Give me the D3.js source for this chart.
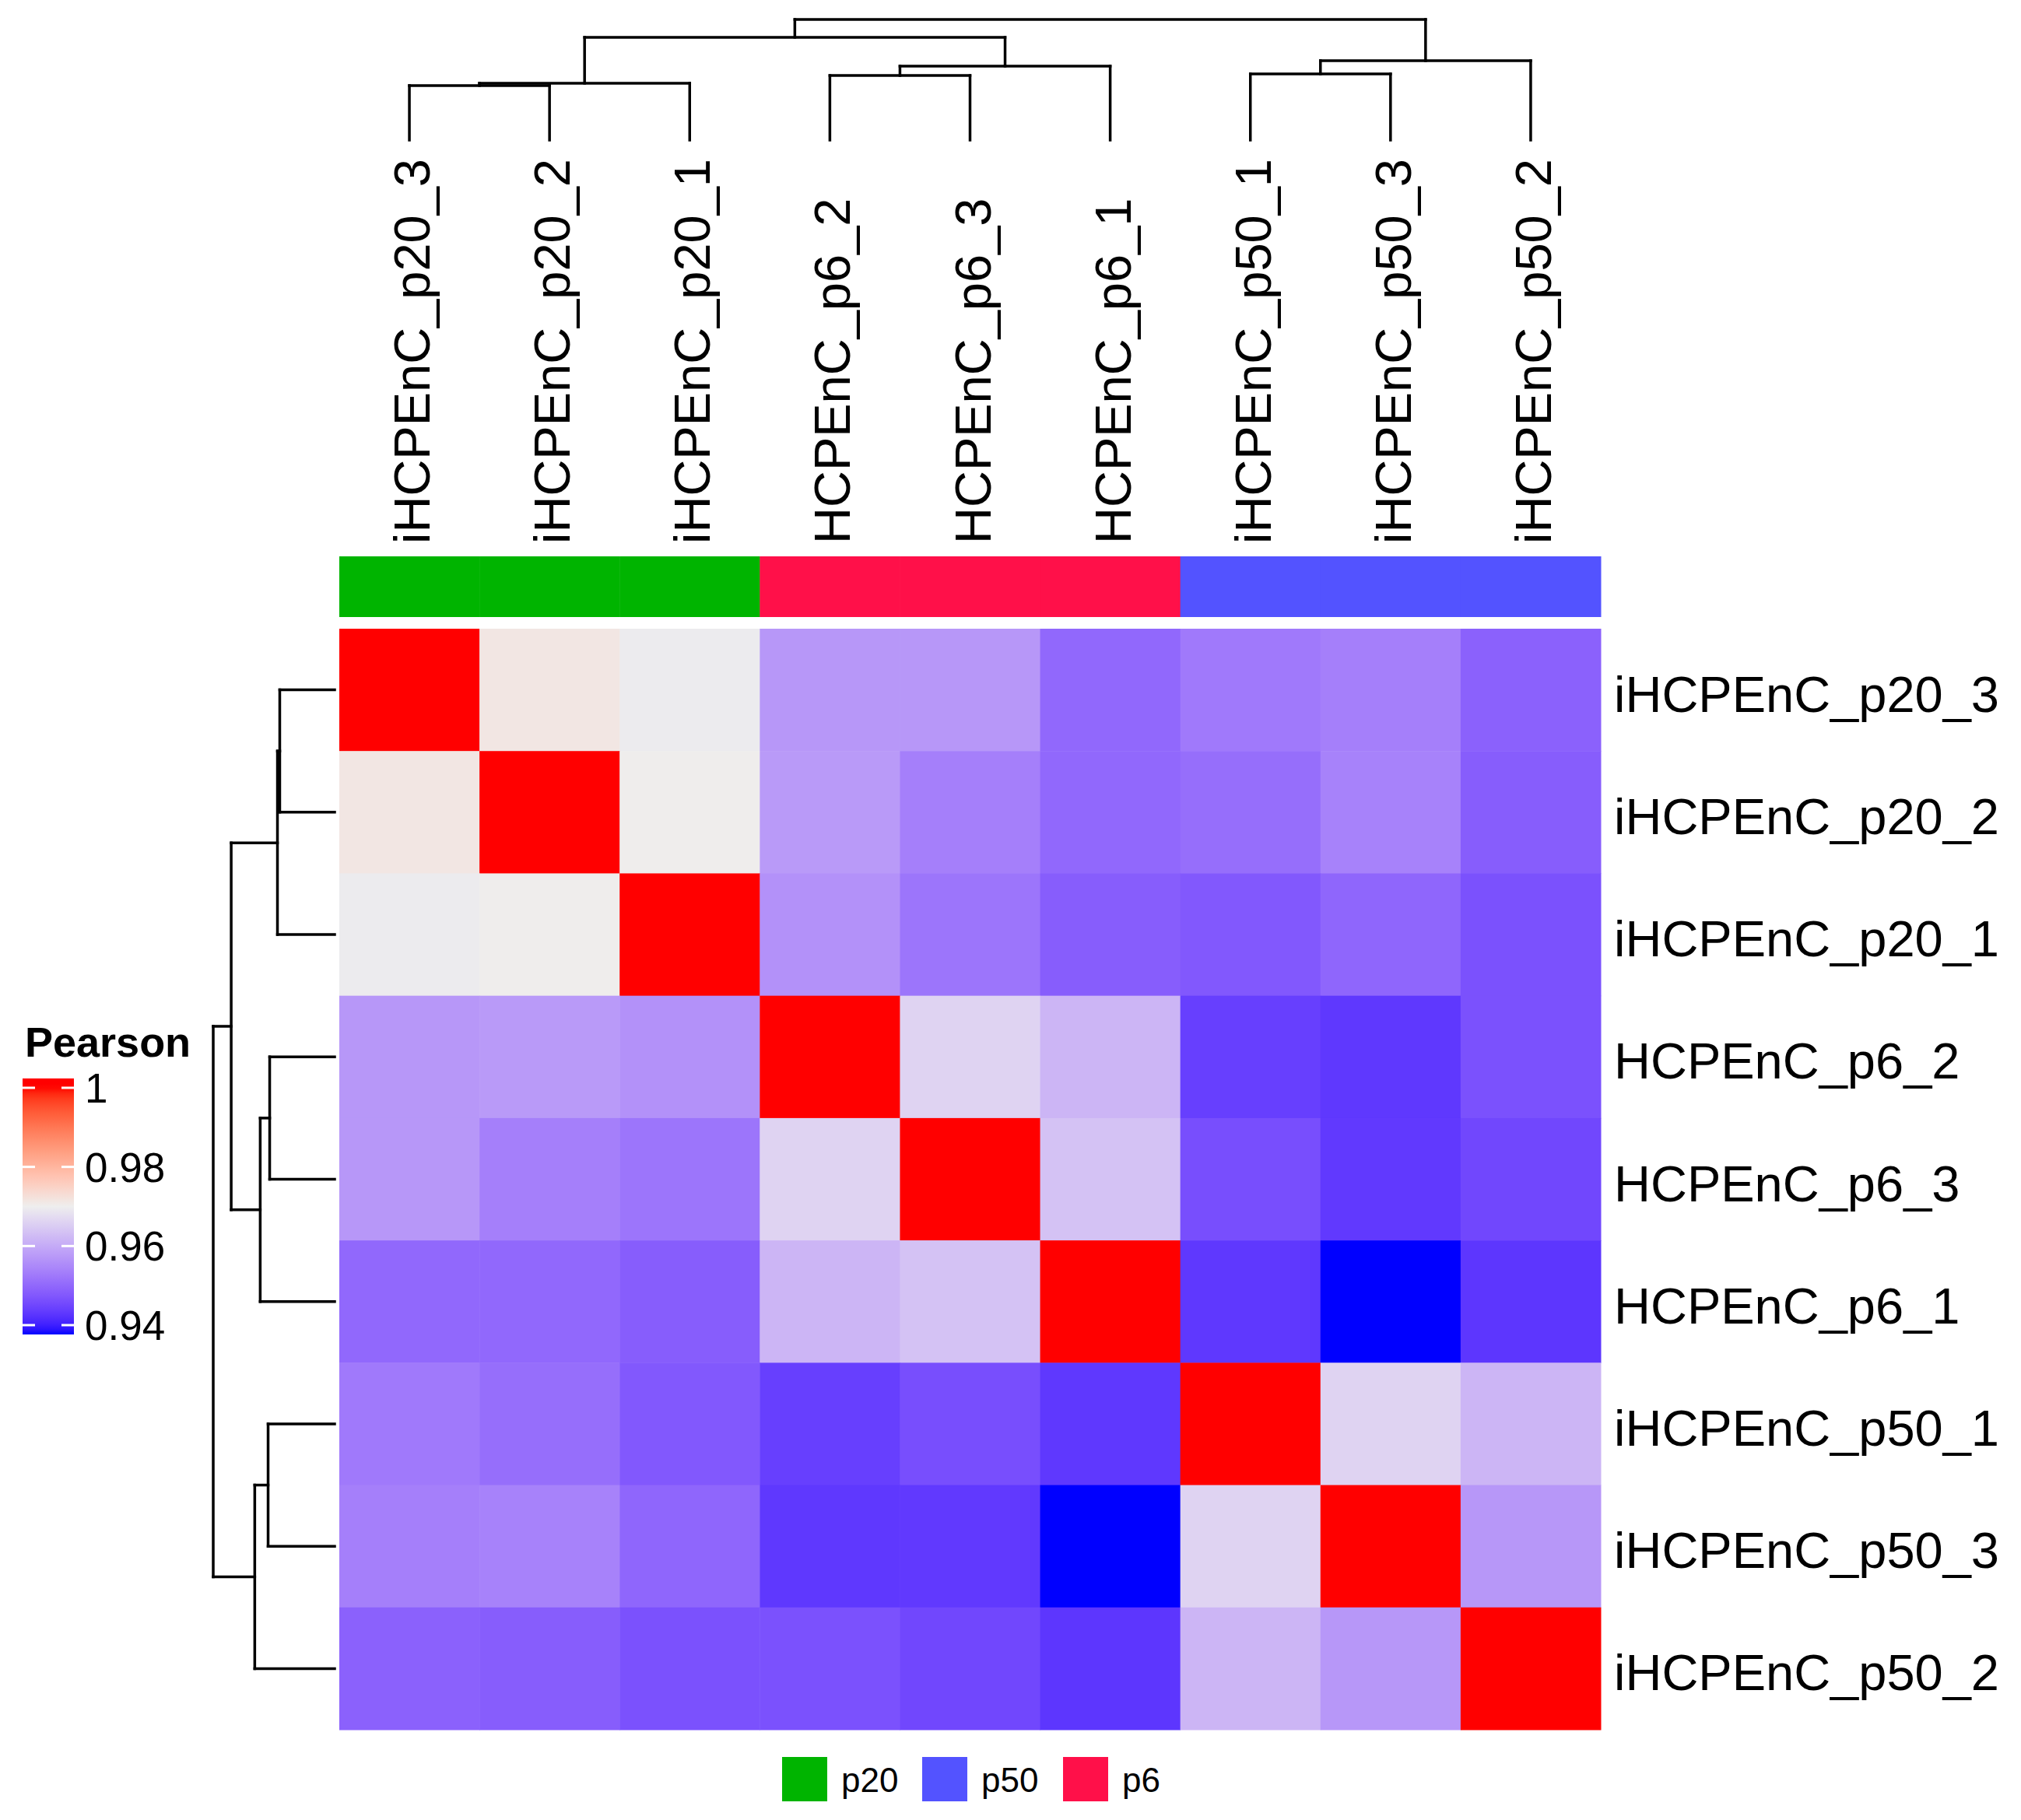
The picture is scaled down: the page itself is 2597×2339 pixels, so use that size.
<!DOCTYPE html>
<html>
<head>
<meta charset="utf-8">
<script src="https://cdn.jsdelivr.net/npm/d3@7"></script>
<style>
  html, body { margin: 0; padding: 0; background: #ffffff; }
  svg { display: block; }
  text { font-family: "Liberation Sans", Arial, Helvetica, sans-serif; fill: #000; }
</style>
</head>
<body>
<svg id="chart" width="2597" height="2339"></svg>
<script>
// ---------------- DATA ----------------
const samples = ["iHCPEnC_p20_3", "iHCPEnC_p20_2", "iHCPEnC_p20_1",
                 "HCPEnC_p6_2", "HCPEnC_p6_3", "HCPEnC_p6_1",
                 "iHCPEnC_p50_1", "iHCPEnC_p50_3", "iHCPEnC_p50_2"];
const sampleGroup = ["p20", "p20", "p20", "p6", "p6", "p6", "p50", "p50", "p50"];
const groupLevels = ["p20", "p50", "p6"];
const groupColors = ["#00B400", "#5353FF", "#FF1049"];

// Pearson correlation matrix (rows/cols in the order of `samples`)
const row_p20_3 = [1.0000, 0.9714, 0.9696, 0.9571, 0.9571, 0.9500, 0.9526, 0.9535, 0.9490];
const row_p20_2 = [0.9714, 1.0000, 0.9702, 0.9576, 0.9535, 0.9500, 0.9509, 0.9539, 0.9484];
const row_p20_1 = [0.9696, 0.9702, 1.0000, 0.9562, 0.9519, 0.9484, 0.9476, 0.9497, 0.9466];
const row_p6_2  = [0.9571, 0.9576, 0.9562, 1.0000, 0.9661, 0.9616, 0.9440, 0.9430, 0.9466];
const row_p6_3  = [0.9571, 0.9535, 0.9519, 0.9661, 1.0000, 0.9635, 0.9462, 0.9432, 0.9452];
const row_p6_1  = [0.9500, 0.9500, 0.9484, 0.9616, 0.9635, 1.0000, 0.9430, 0.9360, 0.9428];
const row_p50_1 = [0.9526, 0.9509, 0.9476, 0.9440, 0.9462, 0.9430, 1.0000, 0.9661, 0.9616];
const row_p50_3 = [0.9535, 0.9539, 0.9497, 0.9430, 0.9432, 0.9360, 0.9661, 1.0000, 0.9571];
const row_p50_2 = [0.9490, 0.9484, 0.9466, 0.9466, 0.9452, 0.9428, 0.9616, 0.9571, 1.0000];
const pearson = [row_p20_3, row_p20_2, row_p20_1, row_p6_2, row_p6_3, row_p6_1, row_p50_1, row_p50_3, row_p50_2];

// colour mapping breaks (blue - #EEEEEE - red)
const colorBreaks = [0.9377, 0.9700, 1.0];
const colorStops = ["blue", "#EEEEEE", "red"];
const legendTicks = [0.94, 0.96, 0.98, 1];
const legendTickLabels = ["0.94", "0.96", "0.98", "1"];
const legendTitle = "Pearson";

// hierarchical clustering (hclust style: negative = leaf index+1, positive = earlier merge)
const mergePairs = [[-1, -2], [1, -3], [-4, -5], [3, -6], [-7, -8], [5, -9], [2, 4], [7, 6]];
const mergeHeights = [0.452, 0.471, 0.535, 0.613, 0.548, 0.658, 0.852, 1.0];

// ---------------- LAYOUT ----------------
const svg = d3.select("#chart");
svg.append("rect").attr("width", 2597).attr("height", 2339).attr("fill", "#fff");

const n = samples.length;
const idx = d3.range(n);
const hmLeft = 436, hmRight = 2057, hmTop = 808, hmBottom = 2223;
const x = d3.scaleBand().domain(idx).range([hmLeft, hmRight]).padding(0);
const y = d3.scaleBand().domain(idx).range([hmTop, hmBottom]).padding(0);
const color = d3.scaleLinear().domain(colorBreaks).range(colorStops)
  .interpolate(d3.interpolateLab).clamp(true);
const gColor = d3.scaleOrdinal().domain(groupLevels).range(groupColors);

const labelFont = 65;

// heatmap cells
const cells = [];
pearson.forEach((row, i) => row.forEach((v, j) => cells.push({i, j, v})));
svg.append("g").selectAll("rect").data(cells).join("rect")
  .attr("x", d => x(d.j)).attr("y", d => y(d.i))
  .attr("width", x.bandwidth() + 0.5).attr("height", y.bandwidth() + 0.5)
  .attr("fill", d => color(d.v));

// column annotation bar
const annTop = 715, annBottom = 793;
svg.append("g").selectAll("rect").data(idx).join("rect")
  .attr("x", d => x(d)).attr("y", annTop)
  .attr("width", x.bandwidth() + 0.5).attr("height", annBottom - annTop)
  .attr("fill", d => gColor(sampleGroup[d]));

// column names (rotated)
svg.append("g").selectAll("text").data(idx).join("text")
  .attr("transform", d => `translate(${x(d) + x.bandwidth() / 2 + 26},699) rotate(-90)`)
  .attr("text-anchor", "start")
  .attr("font-size", labelFont)
  .text(d => samples[d]);

// row names
svg.append("g").selectAll("text").data(idx).join("text")
  .attr("x", hmRight + 17)
  .attr("y", d => y(d) + y.bandwidth() / 2 + 28)
  .attr("text-anchor", "start")
  .attr("font-size", labelFont)
  .text(d => samples[d]);

// ---------------- DENDROGRAMS ----------------
function buildSegments(posOf) {
  const nodes = [];
  const segs = [];
  const get = k => k < 0 ? {p: posOf(-k - 1), h: 0} : nodes[k - 1];
  mergePairs.forEach((pair, m) => {
    const a = get(pair[0]), b = get(pair[1]);
    const h = mergeHeights[m];
    segs.push({p1: a.p, h1: a.h, p2: a.p, h2: h});
    segs.push({p1: a.p, h1: h, p2: b.p, h2: h});
    segs.push({p1: b.p, h1: h, p2: b.p, h2: b.h});
    nodes.push({p: (a.p + b.p) / 2, h});
  });
  return segs;
}

// top (column) dendrogram
const colH = d3.scaleLinear().domain([0, 1]).range([180, 25]);
const colSegs = buildSegments(i => x(i) + x.bandwidth() / 2);
svg.append("g").selectAll("line").data(colSegs).join("line")
  .attr("x1", d => d.p1).attr("x2", d => d.p2)
  .attr("y1", d => colH(d.h1)).attr("y2", d => colH(d.h2))
  .attr("stroke", "#000").attr("stroke-width", 3.5).attr("stroke-linecap", "square");

// left (row) dendrogram
const rowH = d3.scaleLinear().domain([0, 1]).range([430, 274]);
const rowSegs = buildSegments(i => y(i) + y.bandwidth() / 2);
svg.append("g").selectAll("line").data(rowSegs).join("line")
  .attr("y1", d => d.p1).attr("y2", d => d.p2)
  .attr("x1", d => rowH(d.h1)).attr("x2", d => rowH(d.h2))
  .attr("stroke", "#000").attr("stroke-width", 3.5).attr("stroke-linecap", "square");

// ---------------- COLOUR LEGEND ----------------
const ly = d3.scaleLinear().domain([0.94, 1]).range([1703, 1398]);
const barTop = 1386, barBottom = 1715, barLeft = 29, barRight = 95;
const defs = svg.append("defs");
const grad = defs.append("linearGradient").attr("id", "pgrad")
  .attr("x1", 0).attr("y1", 1).attr("x2", 0).attr("y2", 0);
const vLo = ly.invert(barBottom), vHi = ly.invert(barTop);
d3.range(0, 1.0001, 0.02).forEach(t => {
  grad.append("stop").attr("offset", t).attr("stop-color", color(vLo + t * (vHi - vLo)));
});
svg.append("rect").attr("x", barLeft).attr("y", barTop)
  .attr("width", barRight - barLeft).attr("height", barBottom - barTop)
  .attr("fill", "url(#pgrad)");
const lt = svg.append("g");
legendTicks.forEach((v, k) => {
  lt.append("line").attr("x1", barLeft).attr("x2", barLeft + 16)
    .attr("y1", ly(v)).attr("y2", ly(v)).attr("stroke", "#fff").attr("stroke-width", 3);
  lt.append("line").attr("x1", barRight - 16).attr("x2", barRight)
    .attr("y1", ly(v)).attr("y2", ly(v)).attr("stroke", "#fff").attr("stroke-width", 3);
  lt.append("text").attr("x", 109).attr("y", ly(v) + 19)
    .attr("font-size", 53).text(legendTickLabels[k]);
});
svg.append("text").attr("x", 32).attr("y", 1358)
  .attr("font-size", 54).attr("font-weight", "bold").text(legendTitle);

// ---------------- ANNOTATION LEGEND ----------------
const annLegX = [1005, 1185, 1366];
const annLeg = svg.append("g");
groupLevels.forEach((g, k) => {
  annLeg.append("rect").attr("x", annLegX[k]).attr("y", 2258)
    .attr("width", 58).attr("height", 57).attr("fill", gColor(g));
  annLeg.append("text").attr("x", annLegX[k] + 76).attr("y", 2287 + 16)
    .attr("font-size", 44).text(g);
});
</script>
</body>
</html>
